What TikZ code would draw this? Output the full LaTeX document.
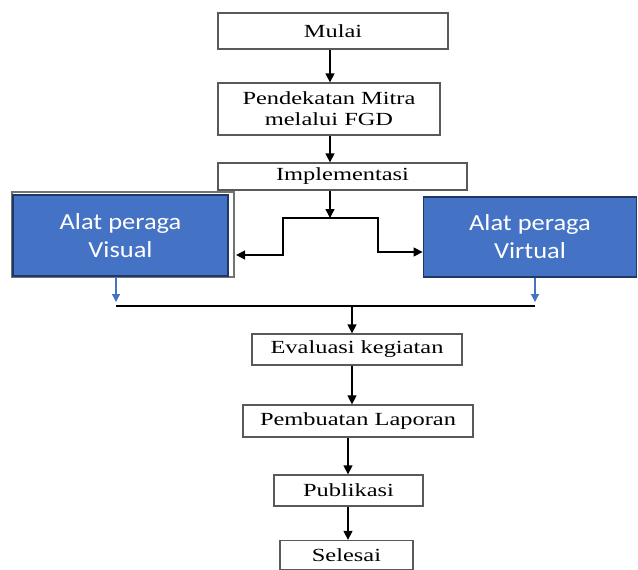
\documentclass[tikz,border=0pt]{standalone}
\usepackage{fontspec}
\usetikzlibrary{arrows.meta}
\newfontfamily\boxfont[FakeStretch=1.32]{Liberation Serif}
\newfontfamily\bluefont[FakeStretch=1.15]{Carlito}
\definecolor{boxblue}{HTML}{4472C4}
\definecolor{boxedge}{HTML}{1F3864}
\begin{document}
\begin{tikzpicture}[x=1pt,y=-1pt,
  box/.style={draw=black!65, line width=1.3pt, fill=white, inner sep=0pt, align=center,
    font=\boxfont\fontsize{18.5}{21}\selectfont},
  bluebox/.style={draw=boxedge, line width=1.8pt, fill=boxblue, text=white, inner sep=0pt,
    align=center, font=\bluefont\fontsize{23}{28}\selectfont},
  arr/.style={line width=1.4pt, -{Triangle[length=9pt,width=9pt]}},
  bluearr/.style={draw=boxblue, line width=1.2pt, -{Triangle[length=8pt,width=8pt,fill=boxblue]}}]
\useasboundingbox (0,0) rectangle (638,570);

%draw upper boxes
\node[box, minimum width=230, minimum height=36] (mulai) at (333,31) {Mulai};
\node[box, minimum width=222, minimum height=52] (pendekatan) at (329,109) {Pendekatan Mitra\\melalui FGD};
\node[box, minimum width=249, minimum height=27] (impl) at (342.5,176.5) {Implementasi};

%draw blue boxes
\node[draw=black!55, line width=1.2pt, minimum width=222, minimum height=85] (visualframe) at (123,234.5) {};
\node[bluebox, minimum width=215, minimum height=81] (visual) at (120.5,235.5) {Alat peraga\\Visual};
\node[bluebox, minimum width=213, minimum height=80] (virtual) at (530,237) {Alat peraga\\Virtual};

%draw lower boxes
\node[box, minimum width=210, minimum height=31] (evaluasi) at (357,349.5) {Evaluasi kegiatan};
\node[box, minimum width=230, minimum height=32] (laporan) at (358,421) {Pembuatan Laporan};
\node[box, minimum width=149, minimum height=31] (publikasi) at (348.5,490.5) {Publikasi};
\node[box, minimum width=133, minimum height=29] (selesai) at (346.5,555) {Selesai};

%draw split and join points
\coordinate (split) at (330,218);
\coordinate (lv) at (283,255);
\coordinate (rv) at (378,252);
\coordinate (vl) at (116,306);
\coordinate (vr) at (535,306);
\coordinate (join) at (352,306);
\coordinate (vltip) at (116,302);
\coordinate (vrtip) at (535,302);

%draw arrows
\draw[arr] (mulai.south -| 330,0) -- (pendekatan.north -| 330,0);
\draw[arr] (pendekatan.south -| split) -- (impl.north -| split);
\draw[arr] (impl.south -| split) -- (split);
\draw[arr] (split) -| (lv) -- ([xshift=1.5pt]lv -| visualframe.east);
\draw[arr] (split) -| (rv) -- (rv -| virtual.west);
\draw[bluearr] (visual.south -| vl) -- (vltip);
\draw[bluearr] (virtual.south -| vr) -- (vrtip);
\draw[line width=1.1pt] (vl) -- (vr);
\draw[arr] (join) -- (evaluasi.north -| join);
\draw[arr] (evaluasi.south -| 352,0) -- (laporan.north -| 352,0);
\draw[arr] (laporan.south -| 348,0) -- (publikasi.north -| 348,0);
\draw[arr] (publikasi.south -| 348,0) -- (selesai.north -| 348,0);
\end{tikzpicture}
\end{document}
